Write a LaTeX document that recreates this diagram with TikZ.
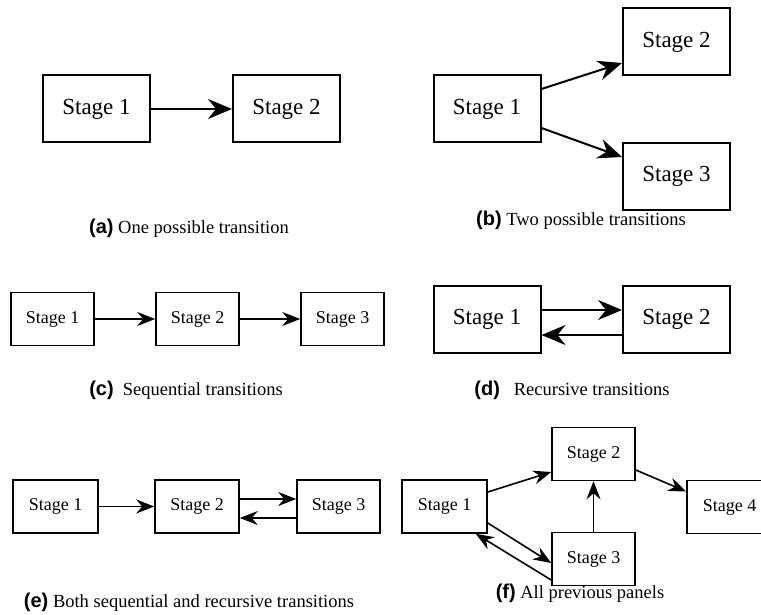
\documentclass[tikz,border=0pt]{standalone}
\usepackage{fontspec}
\setmainfont{Liberation Serif}
\newfontfamily\capfont{Liberation Sans}
\usetikzlibrary{arrows.meta,positioning}

\tikzset{
    bigstage/.style={draw, line width=2pt, minimum width=107pt, minimum height=67pt, inner sep=0pt, font=\fontsize{23}{26}\selectfont},
    smallstage/.style={draw, line width=1.6pt, minimum width=83pt, minimum height=53pt, inner sep=0pt, font=\fontsize{18}{21}\selectfont},
    bigarrow/.style={line width=2pt, -{Stealth[length=24pt,width=20pt,inset=8pt]}},
    smallarrow/.style={line width=1.6pt, -{Stealth[length=18pt,width=14pt,inset=6pt]}},
    caption/.style={font=\fontsize{18.5}{22}\selectfont}
}
\newcommand{\panelcap}[2]{{\capfont\bfseries\fontsize{20}{22}\selectfont(#1)}#2}

\begin{document}
\begin{tikzpicture}[x=1pt,y=-1pt]
    \useasboundingbox (0,0) rectangle (761,615);

    % (a) one possible transition
    \node[bigstage] (a1) at (96.5,109) {Stage 1};
    \node[bigstage] (a2) at (286.5,109) {Stage 2};
    \draw[bigarrow] (a1) -- (a2);
    \node[caption] (acap) at (189,228) {\panelcap{a}{ One possible transition}};

    % (b) two possible transitions
    \node[bigstage] (b1) at (487,109) {Stage 1};
    \node[bigstage] (b2) at (676.5,42) {Stage 2};
    \node[bigstage] (b3) at (676.5,176.5) {Stage 3};
    \draw[bigarrow] ([yshift=20pt]b1.east) -- ([yshift=-21pt]b2.west);
    \draw[bigarrow] ([yshift=-19pt]b1.east) -- ([yshift=19.5pt]b3.west);
    \node[caption] (bcap) at (581,220) {\panelcap{b}{ Two possible transitions}};

    % (c) sequential transitions
    \node[smallstage] (c1) at (52.5,319) {Stage 1};
    \node[smallstage] (c2) at (197.5,319) {Stage 2};
    \node[smallstage] (c3) at (342.5,319) {Stage 3};
    \draw[smallarrow] (c1) -- (c2);
    \draw[smallarrow] (c2) -- (c3);
    \node[caption] (ccap) at (186,390) {\panelcap{c}{\ \ Sequential transitions}};

    % (d) recursive transitions
    \node[bigstage] (d1) at (487,319.5) {Stage 1};
    \node[bigstage] (d2) at (676.5,319.5) {Stage 2};
    \draw[bigarrow] ([yshift=9.5pt]d1.east) -- ([yshift=9.5pt]d2.west);
    \draw[bigarrow] ([yshift=-15.5pt]d2.west) -- ([yshift=-15.5pt]d1.east);
    \node[caption] (dcap) at (572,390) {\panelcap{d}{\ \ \ Recursive transitions}};

    % (e) both sequential and recursive
    \node[smallstage, minimum width=85pt] (e1) at (55.5,506.5) {Stage 1};
    \node[smallstage, minimum width=84pt] (e2) at (197,506.5) {Stage 2};
    \node[smallstage] (e3) at (338.5,506.5) {Stage 3};
    \draw[smallarrow] (e1) -- (e2);
    \draw[smallarrow] ([yshift=7.5pt]e2.east) -- ([yshift=7.5pt]e3.west);
    \draw[smallarrow] ([yshift=-11.5pt]e3.west) -- ([yshift=-11.5pt]e2.east);
    \node[caption] (ecap) at (189,602) {\panelcap{e}{ Both sequential and recursive transitions}};

    % (f) all previous panels
    \node[smallstage, minimum width=85pt] (f1) at (444.5,506.5) {Stage 1};
    \node[smallstage] (f2) at (593.5,454) {Stage 2};
    \node[smallstage] (f3) at (593.5,559) {Stage 3};
    \node[smallstage, minimum width=85pt] (f4) at (729.5,507) {Stage 4};
    \draw[smallarrow] ([yshift=14.5pt]f1.east) -- ([yshift=-18pt]f2.west);
    \draw[smallarrow] ([yshift=-16pt]f2.east) -- ([yshift=15.5pt]f4.west);
    \draw[smallarrow] (f3) -- (f2);
    \draw[smallarrow] ([yshift=-16.5pt]f1.east) -- ([yshift=-4pt]f3.west);
    \draw[smallarrow] ([yshift=-21pt]f3.west) -- ([xshift=-12pt]f1.south east);
    \node[caption] (fcap) at (580,593) {\panelcap{f}{\ All previous panels}};
\end{tikzpicture}
\end{document}
